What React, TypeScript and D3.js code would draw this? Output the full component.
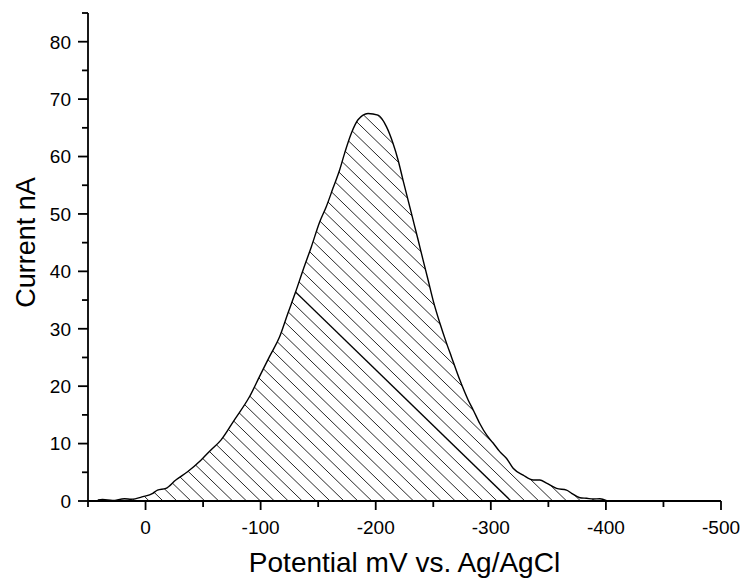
import React from "react";
import * as d3 from "d3";

// Data (potential in mV, current in nA)
const potentials = [41.5, 37.4, 28.7, 18.3, 12.4, 2.3, -6.3, -10.4, -17.7, -26.3, -36.5, -48.1, -56.8, -65.5, -77.1, -90.4, -99.1, -107.8, -116.5, -123.7, -130.2, -136.8, -144.1, -151.3, -157.1, -162.9, -168.7, -173, -178.9, -184.6, -193.3, -202, -209.3, -215, -219.4, -223.7, -228.1, -232.4, -236.8, -241.1, -245.5, -249.8, -255.7, -261.5, -265.8, -273, -280.3, -284.6, -290.4, -296.3, -302, -307.8, -313.7, -319.4, -328.1, -336.8, -342.6, -348.4, -357.1, -365.8, -370.2, -377.4, -383.2, -388.9, -394.8, -400.6];
const currents = [0.17, 0.26, 0.1, 0.4, 0.3, 0.75, 1.34, 1.9, 2.2, 3.66, 5.1, 7.1, 8.9, 10.6, 14.1, 18.2, 21.7, 25.2, 28.6, 32.7, 36.3, 40.2, 44.3, 48.6, 51.3, 54.5, 57.7, 60.6, 64.1, 66.4, 67.5, 67.2, 65.2, 62.3, 59.4, 55.9, 52.4, 49.0, 45.5, 42.0, 38.5, 35.0, 31.0, 27.5, 25.1, 21.1, 17.6, 15.9, 13.5, 11.5, 10.1, 8.6, 7.4, 5.7, 4.5, 3.66, 3.66, 3.1, 2.2, 1.9, 1.34, 0.57, 0.47, 0.35, 0.4, 0.05];

const xMajorTicks = [0, -100, -200, -300, -400, -500];
const xMinorTicks = [50, -50, -150, -250, -350, -450];
const yMajorTicks = [0, 10, 20, 30, 40, 50, 60, 70, 80];
const yMinorTicks = [5, 15, 25, 35, 45, 55, 65, 75, 85];

const xTitle = "Potential mV vs. Ag/AgCl";
const yTitle = "Current nA";

export default function App() {
  const W = 746, H = 581;
  const x = d3.scaleLinear().domain([50, -500]).range([88, 721]);
  const y = d3.scaleLinear().domain([0, 85]).range([501, 13]);
  const pts = potentials.map((p, i) => ({ p, c: currents[i] }));

  const area = d3.area<any>().x(d => x(d.p)).y0(y(0)).y1(d => y(d.c)).curve(d3.curveMonotoneX)(pts) || "";
  const line = d3.line<any>().x(d => x(d.p)).y(d => y(d.c)).curve(d3.curveMonotoneX)(pts) || "";

  // hatch lines: y = c + slope * x
  const slope = 0.97;
  const step = 13.5;
  const darkC = 5.33;
  const hatch = d3.range(-60, 40).map(k => darkC + k * step);
  const font = "'Liberation Sans', Arial, sans-serif";
  const x0 = x.range()[0], x1 = x.range()[1];

  return (
    <svg width={W} height={H} style={{ position: "absolute", left: 0, top: 0, background: "#fff" }} fontFamily={font}>
      <defs>
        <clipPath id="areaClip"><path d={area} /></clipPath>
      </defs>
      <rect width={W} height={H} fill="#fff" />
      <g clipPath="url(#areaClip)">
        {hatch.map((c, i) => (
          <line key={i} x1={x0} y1={c + slope * x0} x2={x1} y2={c + slope * x1}
            stroke={"#000"} strokeWidth={Math.abs(c - darkC) < 0.01 ? 1.3 : 1} strokeOpacity={Math.abs(c - darkC) < 0.01 ? 1 : 0.85} />
        ))}
      </g>
      <path d={line} fill="none" stroke="#000" strokeWidth={1.4} />
      {/* axes */}
      <line x1={x0} y1={y(0)} x2={x1} y2={y(0)} stroke="#000" strokeWidth={1.8} />
      <line x1={x0} y1={y(85)} x2={x0} y2={y(0)} stroke="#000" strokeWidth={1.8} />
      {xMajorTicks.map(t => (
        <g key={"xm" + t}>
          <line x1={x(t)} x2={x(t)} y1={y(0)} y2={y(0) + 9} stroke="#000" strokeWidth={1.8} />
          <text x={x(t)} y={533.5} textAnchor="middle" fontSize={19} fill="#000">{t}</text>
        </g>
      ))}
      {xMinorTicks.map(t => (
        <line key={"xn" + t} x1={x(t)} x2={x(t)} y1={y(0)} y2={y(0) + 6} stroke="#000" strokeWidth={1.8} />
      ))}
      {yMajorTicks.map(t => (
        <g key={"ym" + t}>
          <line x1={x0 - 10} x2={x0} y1={y(t)} y2={y(t)} stroke="#000" strokeWidth={1.8} />
          <text x={71} y={y(t)} dy="0.36em" textAnchor="end" fontSize={19} fill="#000">{t}</text>
        </g>
      ))}
      {yMinorTicks.map(t => (
        <line key={"yn" + t} x1={x0 - 6} x2={x0} y1={y(t)} y2={y(t)} stroke="#000" strokeWidth={1.8} />
      ))}
      <text x={404.5} y={572} textAnchor="middle" fontSize={28} fill="#000">{xTitle}</text>
      <text transform="translate(35,242.5) rotate(-90)" textAnchor="middle" fontSize={27} fill="#000">{yTitle}</text>
    </svg>
  );
}
